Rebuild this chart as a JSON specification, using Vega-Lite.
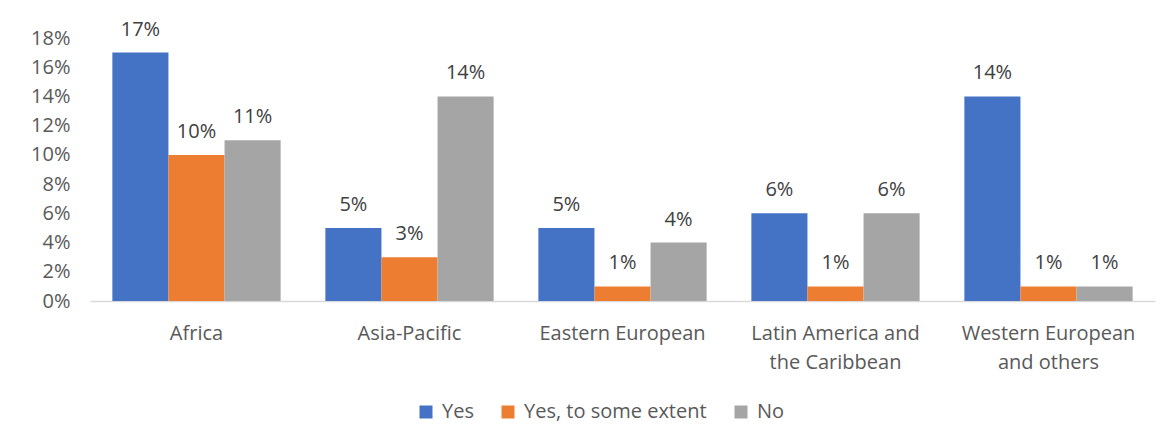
{
  "$schema": "https://vega.github.io/schema/vega-lite/v6.json",
  "autosize": "none",
  "width": 1065,
  "height": 263,
  "padding": {"left": 90, "top": 38, "right": 11, "bottom": 147},
  "background": "white",
  "config": {
    "font": "Open Sans",
    "view": {"stroke": null},
    "axis": {"labelFont": "Open Sans", "labelColor": "#595959", "labelFontSize": 20, "title": null}
  },
  "data": {
    "values": [
      {"region": "Africa", "answer": "Yes", "value": 0.17},
      {"region": "Africa", "answer": "Yes, to some extent", "value": 0.10},
      {"region": "Africa", "answer": "No", "value": 0.11},
      {"region": "Asia-Pacific", "answer": "Yes", "value": 0.05},
      {"region": "Asia-Pacific", "answer": "Yes, to some extent", "value": 0.03},
      {"region": "Asia-Pacific", "answer": "No", "value": 0.14},
      {"region": "Eastern European", "answer": "Yes", "value": 0.05},
      {"region": "Eastern European", "answer": "Yes, to some extent", "value": 0.01},
      {"region": "Eastern European", "answer": "No", "value": 0.04},
      {"region": "Latin America and the Caribbean", "answer": "Yes", "value": 0.06},
      {"region": "Latin America and the Caribbean", "answer": "Yes, to some extent", "value": 0.01},
      {"region": "Latin America and the Caribbean", "answer": "No", "value": 0.06},
      {"region": "Western European and others", "answer": "Yes", "value": 0.14},
      {"region": "Western European and others", "answer": "Yes, to some extent", "value": 0.01},
      {"region": "Western European and others", "answer": "No", "value": 0.01}
    ]
  },
  "encoding": {
    "x": {
      "field": "region", "type": "nominal", "sort": null,
      "scale": {"paddingInner": 0.21, "paddingOuter": 0.105},
      "axis": {
        "labelAngle": 0, "ticks": false, "domainColor": "#d9d9d9", "domainWidth": 1.5,
        "labelPadding": 38, "labelLineHeight": 29, "labelBaseline": "alphabetic",
        "labelExpr": "datum.label == 'Latin America and the Caribbean' ? ['Latin America and', 'the Caribbean'] : datum.label == 'Western European and others' ? ['Western European', 'and others'] : datum.label"
      }
    },
    "xOffset": {"field": "answer", "type": "nominal", "sort": ["Yes", "Yes, to some extent", "No"]},
    "y": {
      "field": "value", "type": "quantitative",
      "scale": {"domain": [0, 0.18]},
      "axis": {"format": ".0%", "values": [0, 0.02, 0.04, 0.06, 0.08, 0.1, 0.12, 0.14, 0.16, 0.18], "grid": false, "domain": false, "ticks": false, "labelPadding": 20}
    }
  },
  "layer": [
    {
      "mark": {"type": "bar"},
      "encoding": {
        "color": {
          "field": "answer", "type": "nominal",
          "sort": ["Yes", "Yes, to some extent", "No"],
          "scale": {"domain": ["Yes", "Yes, to some extent", "No"], "range": ["#4472C4", "#ED7D31", "#A5A5A5"]},
          "legend": {
            "orient": "none", "legendX": 326, "legendY": 364, "direction": "horizontal", "title": null,
            "symbolType": "square", "symbolSize": 169, "symbolStrokeWidth": 0, "symbolOpacity": 1,
            "labelFontSize": 20, "labelColor": "#595959", "labelFont": "Open Sans", "labelOffset": 6,
            "labelLimit": 400, "columnPadding": 24
          }
        }
      }
    },
    {
      "mark": {"type": "text", "baseline": "alphabetic", "dy": -17, "fontSize": 20, "color": "#404040", "font": "Open Sans"},
      "encoding": {
        "text": {"field": "value", "type": "quantitative", "format": ".0%"}
      }
    }
  ]
}
